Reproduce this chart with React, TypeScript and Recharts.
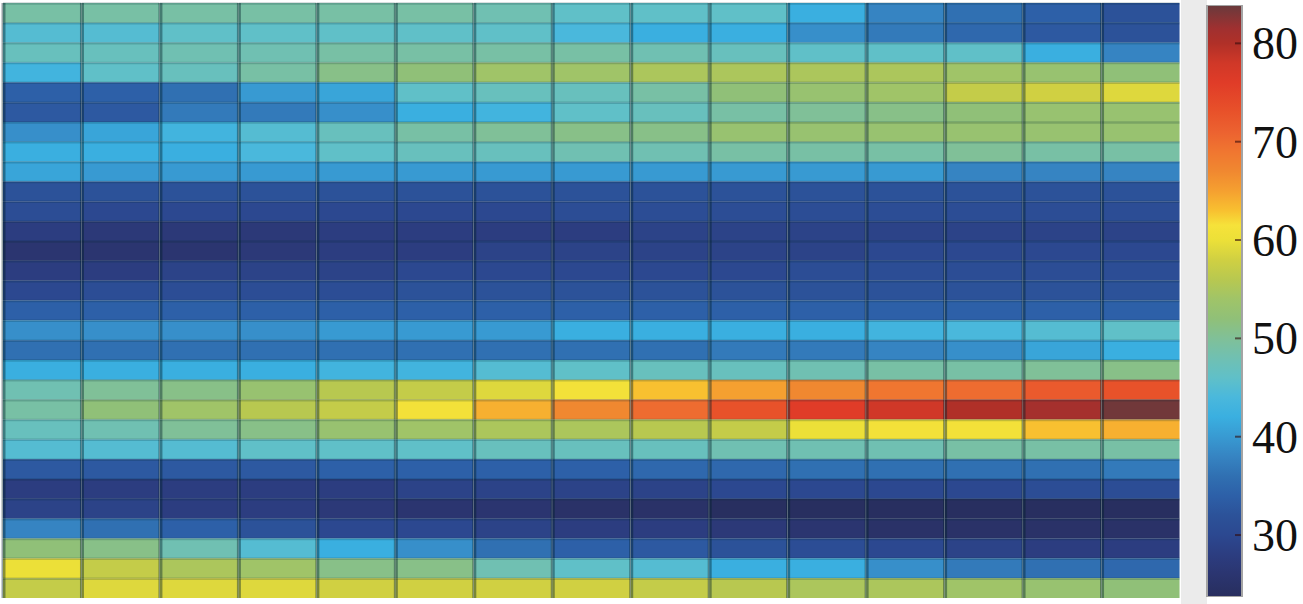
import { Bar, BarChart, XAxis, YAxis } from 'recharts'

const columns = ['1', '2', '3', '4', '5', '6', '7', '8', '9', '10', '11', '12', '13', '14', '15']

const row01 = [49, 49, 49, 49, 49, 49, 48, 46, 46, 46, 42, 38, 36, 34, 32]
const row02 = [45, 45, 46, 46, 46, 46, 46, 44, 42, 42, 39, 37, 35, 33, 32]
const row03 = [47, 47, 48, 48, 49, 49, 49, 49, 48, 47, 46, 46, 46, 42, 38]
const row04 = [43, 46, 47, 49, 51, 52, 54, 54, 55, 55, 55, 55, 54, 53, 52]
const row05 = [34, 34, 36, 40, 41, 46, 47, 47, 49, 52, 53, 54, 57, 58, 59]
const row06 = [33, 33, 37, 37, 39, 42, 43, 46, 47, 49, 50, 51, 52, 53, 53]
const row07 = [39, 41, 43, 45, 47, 49, 50, 51, 51, 53, 53, 53, 53, 53, 53]
const row08 = [42, 42, 42, 44, 46, 47, 47, 48, 48, 49, 49, 49, 50, 49, 49]
const row09 = [41, 40, 40, 40, 40, 40, 40, 40, 40, 40, 40, 40, 38, 38, 38]
const row10 = [32, 32, 32, 32, 32, 32, 32, 32, 32, 32, 32, 32, 32, 32, 32]
const row11 = [31, 30, 30, 30, 30, 30, 30, 31, 31, 31, 31, 31, 31, 31, 31]
const row12 = [28, 27, 27, 27, 28, 28, 28, 28, 29, 29, 29, 29, 29, 29, 29]
const row13 = [26, 26, 26, 27, 28, 28, 29, 29, 29, 29, 29, 30, 30, 30, 30]
const row14 = [28, 28, 29, 29, 29, 30, 30, 30, 30, 30, 31, 31, 31, 31, 31]
const row15 = [30, 31, 31, 31, 31, 32, 32, 32, 32, 32, 32, 32, 32, 32, 32]
const row16 = [34, 34, 34, 34, 34, 34, 34, 34, 34, 34, 34, 34, 34, 34, 34]
const row17 = [39, 39, 39, 39, 40, 40, 40, 42, 42, 42, 42, 43, 44, 45, 46]
const row18 = [36, 36, 36, 36, 36, 36, 36, 36, 36, 37, 37, 38, 39, 41, 42]
const row19 = [42, 42, 42, 42, 43, 43, 45, 46, 47, 47, 48, 49, 49, 50, 51]
const row20 = [48, 50, 51, 53, 56, 57, 59, 61, 63, 65, 67, 69, 70, 72, 73]
const row21 = [49, 52, 54, 56, 57, 61, 64, 67, 70, 73, 76, 78, 80, 81, 83.5]
const row22 = [47, 48, 50, 51, 53, 54, 55, 55, 56, 57, 60, 61, 61, 63, 64]
const row23 = [45, 45, 45, 46, 46, 46, 47, 47, 47, 48, 48, 48, 49, 49, 49]
const row24 = [33, 33, 33, 33, 34, 34, 34, 34, 35, 35, 36, 36, 36, 36, 37]
const row25 = [28, 28, 28, 28, 28, 29, 29, 29, 29, 30, 30, 30, 30, 31, 31]
const row26 = [29, 29, 28, 28, 27, 26, 26, 25, 25, 24, 24, 24, 24, 24, 24]
const row27 = [38, 36, 34, 32, 30, 30, 29, 28, 28, 27, 26, 25, 25, 25, 25]
const row28 = [52, 51, 48, 45, 42, 39, 36, 34, 33, 32, 31, 30, 29, 28, 28]
const row29 = [60, 57, 55, 54, 51, 51, 48, 46, 45, 42, 42, 39, 37, 36, 35]
const row30 = [57, 59, 59, 59, 58, 58, 58, 58, 57, 56, 55, 55, 54, 53, 52]

const rows = [
  row01, row02, row03, row04, row05, row06, row07, row08, row09, row10,
  row11, row12, row13, row14, row15, row16, row17, row18, row19, row20,
  row21, row22, row23, row24, row25, row26, row27, row28, row29, row30,
]

const colorbarTicks = [30, 40, 50, 60, 70, 80]
const colorbarMin = 23.7
const colorbarMax = 83.9

// muted jet-like colormap, value -> colour
const colorStops: [number, string][] = [
  [23.7, '#2a2d5e'],
  [24, '#282f60'],
  [26, '#2b3570'],
  [28, '#2c3d80'],
  [30, '#2c4890'],
  [32, '#2c5299'],
  [34, '#2d60a8'],
  [36, '#3070b2'],
  [38, '#3684c2'],
  [40, '#389ad2'],
  [42, '#3aafe0'],
  [44, '#4ab8dc'],
  [46, '#60c0c8'],
  [48, '#70c0b2'],
  [50, '#80c098'],
  [52, '#90c078'],
  [54, '#a0c468'],
  [56, '#b8c850'],
  [58, '#d0d042'],
  [60, '#ece038'],
  [61.5, '#f6e23a'],
  [63, '#f8c030'],
  [65, '#f5a030'],
  [67, '#f08830'],
  [69, '#f07630'],
  [71, '#ec6230'],
  [73, '#e8522a'],
  [76, '#e03c28'],
  [78, '#d03828'],
  [80, '#b03028'],
  [81.5, '#a03030'],
  [83.9, '#683a3c'],
]

function hexToRgb(hex: string) {
  const n = parseInt(hex.slice(1), 16)
  return [(n >> 16) & 255, (n >> 8) & 255, n & 255]
}

function colorFor(v: number) {
  if (v <= colorStops[0][0]) return colorStops[0][1]
  for (let i = 0; i < colorStops.length - 1; i++) {
    const [v0, c0] = colorStops[i]
    const [v1, c1] = colorStops[i + 1]
    if (v <= v1) {
      const t = (v - v0) / (v1 - v0)
      const a = hexToRgb(c0)
      const b = hexToRgb(c1)
      const mix = a.map((x, k) => Math.round(x + (b[k] - x) * t))
      return `rgb(${mix[0]}, ${mix[1]}, ${mix[2]})`
    }
  }
  return colorStops[colorStops.length - 1][1]
}

// each column stacks 30 unit-high cells, row 1 on top
const heatData = columns.map((c) => {
  const d: Record<string, string | number> = { col: c }
  rows.forEach((_, i) => {
    d[`r${i}`] = 1
  })
  return d
})

const colorbarData = [{ name: 'scale', range: [colorbarMin, colorbarMax] }]

function Tile(props: any) {
  const { x, width, fill } = props
  // reversed axis gives negative heights, svg rect needs them positive
  const top = Math.min(props.y, props.y + props.height)
  const h = Math.abs(props.height)
  return (
    <g>
      <rect x={x} y={top} width={width} height={h} fill={fill} />
      <line x1={x} x2={x + width} y1={top + 0.5} y2={top + 0.5} stroke="rgba(0, 40, 50, 0.2)" strokeWidth={2.5} />
      <line x1={x + 0.5} x2={x + 0.5} y1={top} y2={top + h} stroke="rgba(0, 30, 40, 0.42)" strokeWidth={4} />
    </g>
  )
}

function ColorbarTick(props: any) {
  const { x, y, payload } = props
  return (
    <g>
      <line x1={x - 15} x2={x - 9} y1={y} y2={y} stroke="rgba(50, 10, 10, 0.6)" strokeWidth={2} />
      <text
        x={x + 2}
        y={y}
        dy="0.35em"
        fill="#111"
        fontSize={46}
        fontFamily="'Liberation Serif', 'DejaVu Serif', serif"
      >
        {payload.value}
      </text>
    </g>
  )
}

export default function App() {
  return (
    <div style={{ position: 'fixed', left: 0, top: 0, width: 1303, height: 604, background: '#fff' }}>
      <div style={{ position: 'absolute', left: 1181, top: 0, width: 26, height: 604, background: '#ebebeb' }} />
      <div style={{ position: 'absolute', left: 0, top: 0 }}>
        <BarChart
          width={1183}
          height={604}
          data={heatData}
          margin={{ top: 3, right: 3, bottom: 6, left: 3 }}
          barCategoryGap={0}
          barGap={0}
        >
          <XAxis dataKey="col" hide />
          <YAxis type="number" domain={[0, rows.length]} reversed hide />
          {rows.map((vals, i) => (
            <Bar
              key={i}
              dataKey={`r${i}`}
              stackId="heat"
              isAnimationActive={false}
              shape={(p: any) => <Tile {...p} fill={colorFor(vals[p.index])} />}
            />
          ))}
        </BarChart>
      </div>
      <div style={{ position: 'absolute', left: 1183, top: 0 }}>
        <BarChart
          width={120}
          height={604}
          data={colorbarData}
          margin={{ top: 5, right: 0, bottom: 7, left: 24 }}
          barCategoryGap={0}
        >
          <defs>
            <linearGradient id="cbarGrad" x1="0" y1="0" x2="0" y2="1">
              {colorStops
                .slice()
                .reverse()
                .map(([v, c]) => (
                  <stop key={v} offset={(colorbarMax - v) / (colorbarMax - colorbarMin)} stopColor={c} />
                ))}
            </linearGradient>
          </defs>
          <XAxis dataKey="name" hide />
          <YAxis
            type="number"
            orientation="right"
            domain={[colorbarMin, colorbarMax]}
            ticks={colorbarTicks}
            allowDataOverflow
            axisLine={false}
            tickLine={false}
            width={61}
            tick={<ColorbarTick />}
          />
          <Bar dataKey="range" fill="url(#cbarGrad)" stroke="#a4a4a4" strokeWidth={2} isAnimationActive={false} />
        </BarChart>
      </div>
    </div>
  )
}
